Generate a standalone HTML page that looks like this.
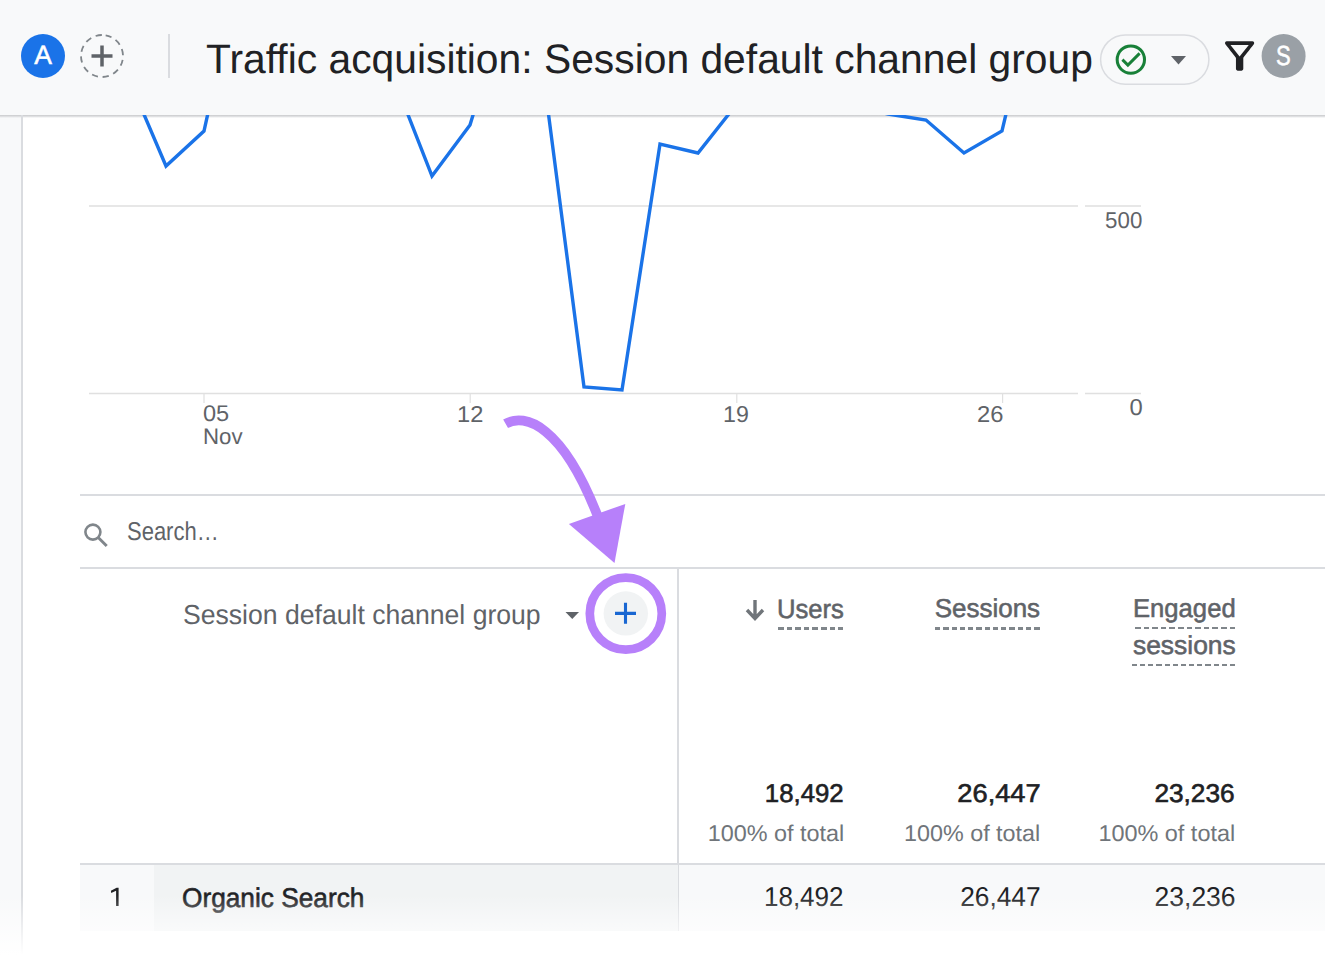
<!DOCTYPE html>
<html><head><meta charset="utf-8">
<style>
*{margin:0;padding:0;box-sizing:border-box}
html,body{width:1325px;height:958px;overflow:hidden;background:#fff;font-family:"Liberation Sans",sans-serif;text-rendering:geometricPrecision}
.abs{position:absolute}
#side{left:0;top:115px;width:21px;height:843px;background:#f8f9fa}
#sideb{left:21px;top:115px;width:2px;height:843px;background:#dadce0}
#hdr{left:0;top:0;width:1325px;height:115px;background:#f8f9fa}
#hshadow{left:0;top:115px;width:1325px;height:3px;background:linear-gradient(#c9cacc,#dfe0e2 50%,rgba(255,255,255,0))}
.t{position:absolute;white-space:nowrap;line-height:1}
#title{left:207px;top:36px;font-size:42px;color:#202124}
.g{color:#5f6368}
.hl{position:absolute;height:2px;background:#dadce0}
.dash{position:absolute;height:2.6px;background:repeating-linear-gradient(90deg,#80868b 0 5px,transparent 5px 8.25px)}
#fade{left:0;top:895px;width:1325px;height:63px;background:linear-gradient(rgba(255,255,255,0),#fff 95%)}
</style></head><body>
<div class="abs" id="hdr"></div>
<div class="abs" id="side"></div>
<div class="abs" id="hshadow"></div>
<div class="abs" id="sideb"></div>

<!-- header items -->
<svg class="abs" style="left:0;top:0" width="1325" height="115" viewBox="0 0 1325 115">
  <circle cx="43" cy="56" r="22" fill="#1a73e8"/>
  <text x="43" y="64.4" font-size="26.5" fill="#fff" stroke="#fff" stroke-width="0.5" text-anchor="middle" font-family="Liberation Sans">A</text>
  <circle cx="102" cy="56" r="21" fill="none" stroke="#80868b" stroke-width="1.8" stroke-dasharray="6.2 4.8" transform="rotate(-80 102 56)"/>
  <path d="M91.5 56H112.5M102 45.5V66.5" stroke="#5f6368" stroke-width="3.5"/>
  <rect x="168" y="34" width="2" height="44" fill="#dadce0"/>
  <rect x="1100.6" y="34.9" width="108.3" height="49.4" rx="24.7" fill="none" stroke="#dadce0" stroke-width="1.5"/>
  <path d="M1122.4 59.6L1127.9 65.1L1139.6 53.4" fill="none" stroke="#188038" stroke-width="2.9"/>
  <path transform="translate(1112.6 77.84) scale(0.038)" fill="#188038" d="M480-80q-83 0-156-31.5T197-197q-54-54-85.5-127T80-480q0-83 31.5-156T197-763q54-54 127-85.5T480-880q83 0 156 31.5T763-763q54 54 85.5 127T880-480q0 83-31.5 156T763-197q-54 54-127 85.5T480-80Zm0-80q134 0 227-93t93-227q0-134-93-227t-227-93q-134 0-227 93t-93 227q0 134 93 227t227 93Z"/>
  <path d="M1171 56h15l-7.5 8.5z" fill="#5f6368"/>
  <path transform="translate(1217.6 33.96) scale(1.835)" fill="#202124" d="M7 6h10l-5.01 6.3L7 6zm-2.75-.39C6.27 8.2 10 13 10 13v6c0 .55.45 1 1 1h2c.55 0 1-.45 1-1v-6s3.72-4.8 5.74-7.39c.51-.66.04-1.61-.79-1.61H5.04c-.83 0-1.3.95-.79 1.61z"/>
  <circle cx="1283.6" cy="56" r="22" fill="#9aa0a6"/>
  <text transform="translate(1283.3 64.6) scale(0.8 1)" font-size="27.5" fill="#fff" stroke="#fff" stroke-width="0.6" text-anchor="middle" font-family="Liberation Sans">S</text>
</svg>

<!-- chart -->
<svg class="abs" style="left:0;top:115px" width="1325" height="350" viewBox="0 115 1325 350">
  <g stroke="#e0e0e0" stroke-width="1.5">
    <path d="M89 206H1078M1085 206H1141M89 393.5H1078M1085 393.5H1141"/>
    <path d="M204 393v10M470.2 393v10M736.8 393v10M1002.6 393v10" stroke-width="1.2"/>
  </g>
  <polyline fill="none" stroke="#1a73e8" stroke-width="3.4" stroke-linejoin="miter" points="90,40 128,77 166,166 204,131 242,-40 280,20 318,30 356,40 394,79 432,176 470,125 508,0 546,95 584,387 622,390 660,144 698,153 736,105 774,50 812,40 850,105 888,114 926,120 964,153 1002,131 1040,-30 1078,40"/>
</svg>

<!-- search -->
<div class="hl" style="left:80px;top:493.5px;width:1245px"></div>
<svg class="abs" style="left:80px;top:518px" width="32" height="32" viewBox="0 0 32 32">
  <circle cx="12.9" cy="14.1" r="7.5" fill="none" stroke="#80868b" stroke-width="2.6"/>
  <path d="M18.2 19.5L26.7 28" stroke="#80868b" stroke-width="2.9"/>
</svg>
<div class="hl" style="left:80px;top:566.5px;width:1245px"></div>

<!-- table header -->
<svg class="abs" style="left:560px;top:570px" width="120" height="90" viewBox="560 570 120 90">
  <path d="M565.5 612h13.5l-6.75 7z" fill="#5f6368"/>
  <circle cx="625.8" cy="613.4" r="22.2" fill="#f1f3f4"/>
  <path d="M615 613.4h21M625.5 602.7v21" stroke="#1967d2" stroke-width="3.1"/>
  <circle cx="625.8" cy="613.6" r="36" fill="none" stroke="#b780fa" stroke-width="8.7"/>
</svg>
<div class="abs" style="left:677px;top:567px;width:2px;height:364px;background:#dadce0"></div>

<svg class="abs" style="left:744px;top:598px" width="24" height="26" viewBox="0 0 24 26">
  <path d="M11 2v18M3 12l8 8.5l8-8.5" fill="none" stroke="#70757a" stroke-width="3.4"/>
</svg>
<div class="dash" style="left:777.5px;top:627.0px;width:65.8px;background:repeating-linear-gradient(90deg,#80868b 0 5.60px,transparent 5.60px 8.600px)"></div>
<div class="dash" style="left:935.4px;top:627.0px;width:104.6px;background:repeating-linear-gradient(90deg,#80868b 0 5.28px,transparent 5.28px 8.277px)"></div>
<div class="dash" style="left:1135.0px;top:626.8px;width:100.3px;background:repeating-linear-gradient(90deg,#80868b 0 5.61px,transparent 5.61px 8.608px)"></div>
<div class="dash" style="left:1132.2px;top:663.8px;width:103.1px;background:repeating-linear-gradient(90deg,#80868b 0 5.16px,transparent 5.16px 8.162px)"></div>

<!-- totals -->

<!-- row -->
<div class="hl" style="left:80px;top:863px;width:1245px"></div>
<div class="abs" style="left:80px;top:865px;width:74px;height:66px;background:#f8f9fa"></div>
<div class="abs" style="left:154px;top:865px;width:524px;height:66px;background:#f1f3f4"></div>
<div class="abs" style="left:679px;top:865px;width:646px;height:66px;background:#f8f9fa"></div>
<svg class="abs" style="left:100px;top:880px" width="30" height="32" viewBox="100 880 30 32"><path d="M110.9 890.7L116.6 887.8H118.6V906.1H116.1V890.7L111.2 893.1Z" fill="#202124"/></svg>
<div class="t" id="title" style="top:39.12px;font-size:41.2px;color:#202124;left:205.61px;transform-origin:0 0;transform:scaleX(0.9907);">Traffic acquisition: Session default channel group</div>
<div class="t" id="search" style="top:520.04px;font-size:25.87px;color:#5f6368;left:126.5px;transform-origin:0 0;transform:scaleX(0.8501);">Search…</div>
<div class="t" id="sdcg" style="top:600.85px;font-size:27.47px;color:#5f6368;left:182.91px;transform-origin:0 0;transform:scaleX(0.9677);">Session default channel group</div>
<div class="t" id="users" style="top:595.85px;font-size:26.4px;color:#5f6368;-webkit-text-stroke:0.55px #5f6368;right:481.39px;transform-origin:100% 0;transform:scaleX(0.9722);">Users</div>
<div class="t" id="sessions" style="top:597.32px;font-size:25.9px;color:#5f6368;-webkit-text-stroke:0.55px #5f6368;right:284.74px;transform-origin:100% 0;transform:scaleX(1.0025);">Sessions</div>
<div class="t" id="engaged" style="top:597.08px;font-size:25.9px;color:#5f6368;-webkit-text-stroke:0.55px #5f6368;right:88.98px;transform-origin:100% 0;transform:scaleX(0.9906);">Engaged</div>
<div class="t" id="sessions2" style="top:633.92px;font-size:25.9px;color:#5f6368;-webkit-text-stroke:0.55px #5f6368;right:89.28px;transform-origin:100% 0;transform:scaleX(1.0202);">sessions</div>
<div class="t" id="t1" style="top:781.67px;font-size:25.73px;color:#202124;-webkit-text-stroke:0.6px #202124;right:481.27px;transform-origin:100% 0;transform:scaleX(1.0016);">18,492</div>
<div class="t" id="t2" style="top:781.67px;font-size:25.73px;color:#202124;-webkit-text-stroke:0.6px #202124;right:284.62px;transform-origin:100% 0;transform:scaleX(1.0590);">26,447</div>
<div class="t" id="t3" style="top:781.67px;font-size:25.73px;color:#202124;-webkit-text-stroke:0.6px #202124;right:90.2px;transform-origin:100% 0;transform:scaleX(1.0206);">23,236</div>
<div class="t" id="p1" style="top:822.08px;font-size:22.82px;color:#70757a;right:480.85px;transform-origin:100% 0;transform:scaleX(1.0250);">100% of total</div>
<div class="t" id="p2" style="top:822.08px;font-size:22.82px;color:#70757a;right:285.18px;transform-origin:100% 0;transform:scaleX(1.0223);">100% of total</div>
<div class="t" id="p3" style="top:822.08px;font-size:22.82px;color:#70757a;right:90.07px;transform-origin:100% 0;transform:scaleX(1.0272);">100% of total</div>
<div class="t" id="organic" style="top:885.42px;font-size:27.03px;color:#202124;-webkit-text-stroke:0.6px #202124;left:182.24px;transform-origin:0 0;transform:scaleX(0.9719);">Organic Search</div>
<div class="t" id="r1" style="top:883.26px;font-size:27.33px;color:#202124;right:480.96px;transform-origin:100% 0;transform:scaleX(0.9533);">18,492</div>
<div class="t" id="r2" style="top:883.26px;font-size:27.33px;color:#202124;right:284.36px;transform-origin:100% 0;transform:scaleX(0.9623);">26,447</div>
<div class="t" id="r3" style="top:883.26px;font-size:27.33px;color:#202124;right:89.66px;transform-origin:100% 0;transform:scaleX(0.9692);">23,236</div>
<div class="t" id="x05" style="top:402.43px;font-size:22.67px;color:#5f6368;left:203.49px;transform-origin:0 0;transform:scaleX(1.0398);">05</div>
<div class="t" id="xnov" style="top:425.67px;font-size:22.38px;color:#5f6368;left:203.36px;transform-origin:0 0;transform:scaleX(0.9943);">Nov</div>
<div class="t" id="x12" style="top:403.15px;font-size:22.97px;color:#5f6368;left:457.03px;transform-origin:0 0;transform:scaleX(1.0286);">12</div>
<div class="t" id="x19" style="top:403.15px;font-size:22.97px;color:#5f6368;left:722.6px;transform-origin:0 0;transform:scaleX(1.0101);">19</div>
<div class="t" id="x26" style="top:403.15px;font-size:22.97px;color:#5f6368;left:977.44px;transform-origin:0 0;transform:scaleX(1.0335);">26</div>
<div class="t" id="y500" style="top:208.55px;font-size:22.97px;color:#5f6368;right:182.37px;transform-origin:100% 0;transform:scaleX(0.9707);">500</div>
<div class="t" id="y0" style="top:396.35px;font-size:22.97px;color:#5f6368;right:182.0px;transform-origin:100% 0;transform:scaleX(1.0364);">0</div>
<div class="abs" id="fade"></div>

<!-- arrow -->
<svg class="abs" style="left:0;top:0" width="1325" height="958" viewBox="0 0 1325 958">
  <path d="M505.6 423.8C525 412.5 562.5 425 598 517" fill="none" stroke="#b780fa" stroke-width="9.7"/>
  <path d="M568.9 523.9L625.3 503.9L614.5 563.1z" fill="#b780fa"/>
</svg>
</body></html>
